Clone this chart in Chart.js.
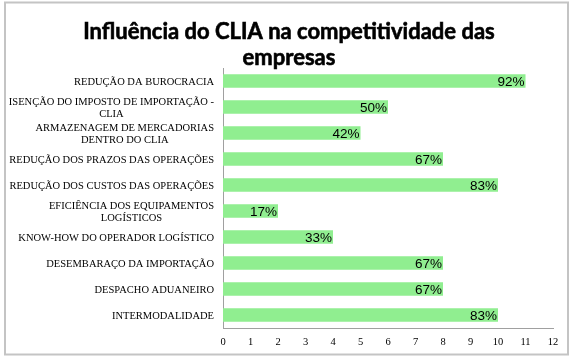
<!DOCTYPE html>
<html>
<head>
<meta charset="utf-8">
<script src="https://cdn.jsdelivr.net/npm/chart.js@4.4.1/dist/chart.umd.min.js"></script>
<style>
html,body{margin:0;padding:0;background:#fff;}
#wrap{width:578px;height:360px;position:relative;}
</style>
</head>
<body>
<div id="wrap"><canvas id="c" width="578" height="360"></canvas></div>
<script>
const titleLines = ["Influência do CLIA na competitividade das", "empresas"];
const categories = [
  ["REDUÇÃO DA BUROCRACIA"],
  ["ISENÇÃO DO IMPOSTO DE IMPORTAÇÃO -", "CLIA"],
  ["ARMAZENAGEM DE MERCADORIAS", "DENTRO DO CLIA"],
  ["REDUÇÃO DOS PRAZOS DAS OPERAÇÕES"],
  ["REDUÇÃO DOS CUSTOS DAS OPERAÇÕES"],
  ["EFICIÊNCIA DOS EQUIPAMENTOS", "LOGÍSTICOS"],
  ["KNOW-HOW DO OPERADOR LOGÍSTICO"],
  ["DESEMBARAÇO DA IMPORTAÇÃO"],
  ["DESPACHO ADUANEIRO"],
  ["INTERMODALIDADE"]
];
const counts = [11, 6, 5, 8, 10, 2, 4, 8, 8, 10];
const pctLabels = ["92%", "50%", "42%", "67%", "83%", "17%", "33%", "67%", "67%", "83%"];
const xTicks = [0,1,2,3,4,5,6,7,8,9,10,11,12];

const decor = {
  id: 'decor',
  beforeDraw(chart) {
    const ctx = chart.ctx;
    ctx.save();
    ctx.fillStyle = '#fff';
    ctx.fillRect(0, 0, chart.width, chart.height);
    ctx.strokeStyle = '#c4c4c4';
    ctx.lineWidth = 2;
    ctx.strokeRect(5, 2.5, 563, 352);
    ctx.restore();
  },
  afterDraw(chart) {
    const ctx = chart.ctx;
    const yS = chart.scales.y;
    ctx.save();
    // title
    ctx.fillStyle = '#000';
    ctx.strokeStyle = '#000';
    ctx.lineWidth = 0.6;
    ctx.font = 'bold 22px Lato, "Open Sans", sans-serif';
    ctx.textAlign = 'center';
    ctx.textBaseline = 'alphabetic';
    const tx = chart.width / 2;
    ctx.fillText(titleLines[0], tx, 39);
    ctx.strokeText(titleLines[0], tx, 39);
    ctx.fillText(titleLines[1], tx, 65);
    ctx.strokeText(titleLines[1], tx, 65);
    // category labels
    ctx.font = '10.5px "Liberation Serif", "Times New Roman", serif';
    ctx.textBaseline = 'middle';
    const right = chart.chartArea.left - 9;
    categories.forEach((lines, i) => {
      const yc = yS.getPixelForValue(i);
      const lh = 11.5;
      let maxW = 0;
      lines.forEach(l => { maxW = Math.max(maxW, ctx.measureText(l).width); });
      const cx = right - maxW / 2;
      const y0 = yc - (lines.length - 1) * lh / 2 + 1;
      lines.forEach((l, k) => {
        ctx.textAlign = 'center';
        ctx.fillText(l, cx, y0 + k * lh);
      });
    });
    // value labels
    ctx.font = '13.5px "Liberation Sans", Arial, sans-serif';
    ctx.textAlign = 'right';
    const meta = chart.getDatasetMeta(0);
    meta.data.forEach((bar, i) => {
      ctx.fillText(pctLabels[i], bar.x - 1, bar.y + 1);
    });
    ctx.restore();
  }
};

new Chart(document.getElementById('c'), {
  type: 'bar',
  data: {
    labels: categories,
    datasets: [{
      data: counts,
      backgroundColor: '#90ee90',
      borderWidth: 0,
      barPercentage: 0.52,
      categoryPercentage: 1
    }]
  },
  options: {
    indexAxis: 'y',
    responsive: false,
    animation: false,
    layout: { padding: { left: 0, right: 25, top: 68, bottom: 12 } },
    plugins: { legend: { display: false }, tooltip: { enabled: false }, title: { display: false } },
    scales: {
      x: {
        min: 0, max: 12,
        afterBuildTicks(scale) { scale.ticks = xTicks.map(v => ({ value: v })); },
        afterFit(scale) { scale.height = 20; },
        grid: { display: false, drawTicks: false },
        border: { display: true, color: '#a0a0a0', width: 1 },
        ticks: {
          padding: 8,
          color: '#000',
          font: { family: '"Liberation Serif", "Times New Roman", serif', size: 10.5 }
        }
      },
      y: {
        afterFit(scale) { scale.width = 223; },
        grid: { display: false, drawTicks: false },
        border: { display: true, color: '#a0a0a0', width: 1 },
        ticks: { display: false }
      }
    }
  },
  plugins: [decor]
});
</script>
</body>
</html>
